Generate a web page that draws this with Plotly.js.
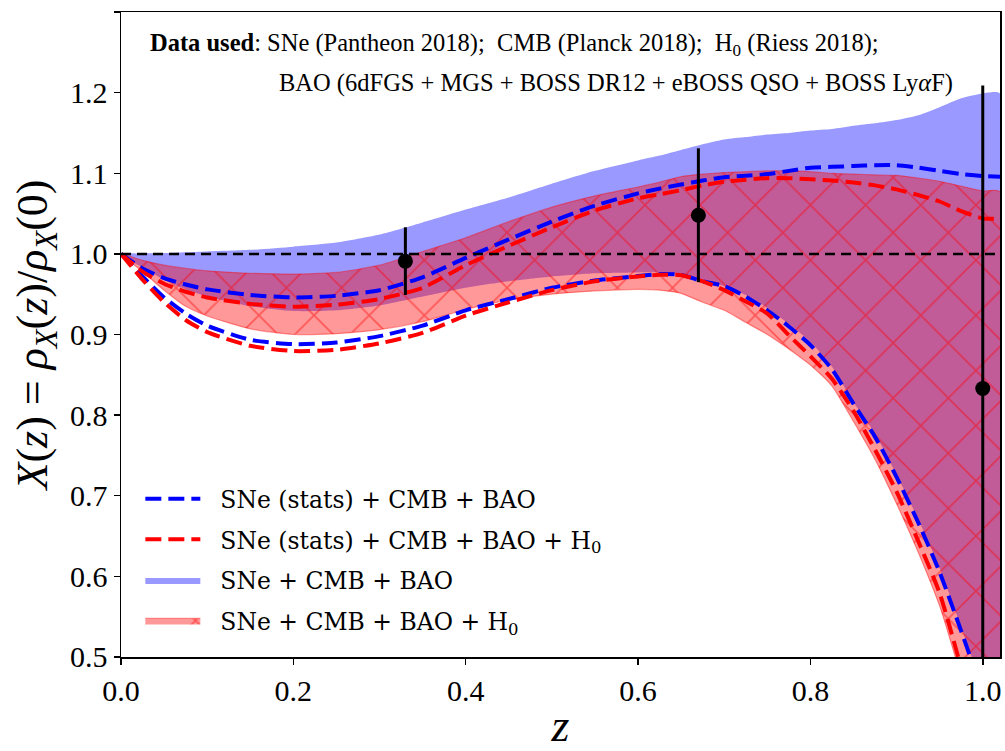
<!DOCTYPE html>
<html><head><meta charset="utf-8">
<script src="https://cdn.plot.ly/plotly-3.0.1.min.js"></script>
<style>html,body{margin:0;padding:0;background:#fff}#chart{width:1005px;height:751px}</style>
</head><body><div id="chart"></div>
<script>
// redshift grid
const z = [0, 0.025, 0.05, 0.075, 0.1, 0.15, 0.2, 0.25, 0.3, 0.35, 0.4, 0.45, 0.5, 0.55, 0.6, 0.625, 0.65, 0.675, 0.7, 0.725, 0.75, 0.775, 0.8, 0.825, 0.85, 0.875, 0.9, 0.925, 0.95, 0.975, 1.0, 1.02];
// SNe + CMB + BAO band (blue)
const blueBandHi = [1.0, 1.0005, 1.001, 1.002, 1.003, 1.005, 1.009, 1.014, 1.024, 1.039, 1.055, 1.070, 1.087, 1.103, 1.116, 1.122, 1.129, 1.136, 1.142, 1.145, 1.148, 1.150, 1.153, 1.155, 1.159, 1.162, 1.166, 1.172, 1.182, 1.193, 1.199, 1.199];
const blueBandLo = [1.0, 0.983, 0.968, 0.956, 0.947, 0.935, 0.929, 0.930, 0.936, 0.947, 0.958, 0.966, 0.972, 0.976, 0.977, 0.977, 0.975, 0.968, 0.960, 0.949, 0.933, 0.913, 0.891, 0.860, 0.816, 0.777, 0.726, 0.671, 0.610, 0.537, 0.46, 0.40];
// SNe + CMB + BAO + H0 band (red, hatched)
const redBandHi = [1.0, 0.992, 0.986, 0.982, 0.979, 0.976, 0.975, 0.977, 0.986, 1.003, 1.020, 1.040, 1.058, 1.072, 1.083, 1.089, 1.096, 1.099, 1.101, 1.102, 1.103, 1.103, 1.102, 1.100, 1.099, 1.098, 1.0975, 1.094, 1.090, 1.084, 1.078, 1.077];
const redBandLo = [1.0, 0.978, 0.955, 0.935, 0.923, 0.907, 0.900, 0.901, 0.906, 0.916, 0.931, 0.943, 0.950, 0.954, 0.956, 0.955, 0.951, 0.940, 0.930, 0.915, 0.900, 0.882, 0.862, 0.836, 0.792, 0.745, 0.690, 0.630, 0.563, 0.475, 0.38, 0.30];
// SNe (stats) + CMB + BAO (blue dashed)
const blueStatHi = [1.0, 0.982, 0.970, 0.962, 0.956, 0.949, 0.946, 0.948, 0.955, 0.971, 0.995, 1.018, 1.040, 1.060, 1.075, 1.081, 1.086, 1.091, 1.095, 1.097, 1.099, 1.103, 1.107, 1.108, 1.109, 1.110, 1.110, 1.107, 1.103, 1.099, 1.0965, 1.0957];
const blueStatLo = [1.0, 0.972, 0.946, 0.926, 0.911, 0.8935, 0.888, 0.890, 0.898, 0.911, 0.930, 0.944, 0.958, 0.967, 0.9725, 0.975, 0.974, 0.966, 0.960, 0.947, 0.930, 0.910, 0.887, 0.857, 0.814, 0.773, 0.723, 0.667, 0.605, 0.532, 0.455, 0.39];
// SNe (stats) + CMB + BAO + H0 (red dashed)
const redStatHi = [1.0, 0.978, 0.963, 0.953, 0.946, 0.938, 0.9345, 0.937, 0.944, 0.958, 0.986, 1.010, 1.033, 1.054, 1.069, 1.074, 1.079, 1.085, 1.0895, 1.092, 1.094, 1.094, 1.0925, 1.091, 1.0885, 1.085, 1.080, 1.073, 1.065, 1.053, 1.044, 1.044];
const redStatLo = [1.0, 0.968, 0.940, 0.918, 0.903, 0.886, 0.8795, 0.881, 0.889, 0.902, 0.9235, 0.940, 0.955, 0.966, 0.972, 0.974, 0.9735, 0.966, 0.955, 0.941, 0.926, 0.899, 0.873, 0.845, 0.805, 0.757, 0.705, 0.644, 0.579, 0.487, 0.40, 0.33];
// binned data points
const pointZ = [0.33, 0.67, 1.0];
const pointX = [0.991, 1.048, 0.833];
const pointErr = [0.042, 0.083, 0.376];
const refLevel = 1.0;
const xTickVals = [0.0, 0.2, 0.4, 0.6, 0.8, 1.0];
const yTickVals = [0.5, 0.6, 0.7, 0.8, 0.9, 1.0, 1.1, 1.2, 1.3];
const legendNames = [
  'SNe (stats) + CMB + BAO',
  'SNe (stats) + CMB + BAO + H<sub>0</sub>',
  'SNe + CMB + BAO',
  'SNe + CMB + BAO + H<sub>0</sub>'
];

const SERIF = 'Liberation Serif, Times New Roman, serif';
const LEGFONT = 'DejaVu Serif, serif';
const PAD = '\u00a0\u00a0';
function band(hi, lo) {
  return { x: z.concat(z.slice().reverse()), y: hi.concat(lo.slice().reverse()) };
}
const bb = band(blueBandHi, blueBandLo);
const rb = band(redBandHi, redBandLo);

const traces = [
  { x: bb.x, y: bb.y, type: 'scatter', mode: 'lines', fill: 'toself',
    fillcolor: 'rgba(0,0,255,0.4)', line: { width: 0, shape: 'spline', smoothing: 0.6 },
    name: PAD + legendNames[2], legendrank: 3, legendgroup: 'c', hoverinfo: 'skip' },
  { x: rb.x, y: rb.y, type: 'scatter', mode: 'lines', fill: 'toself',
    fillcolor: 'rgba(255,0,0,0.4)',
    fillpattern: { shape: 'x', bgcolor: 'rgba(255,0,0,0.4)', fgcolor: '#ff0000', fgopacity: 0.45, size: 39, solidity: 0.08 },
    line: { width: 1.2, color: 'rgba(255,0,0,0.4)', shape: 'spline', smoothing: 0.6 },
    name: PAD + legendNames[3], legendrank: 4, legendgroup: 'd', hoverinfo: 'skip' },
  { x: z, y: blueStatHi, type: 'scatter', mode: 'lines', line: { color: '#0000ff', width: 4, dash: '16px,7px', shape: 'spline', smoothing: 0.6 },
    name: PAD + legendNames[0], legendrank: 1, legendgroup: 'a' },
  { x: z, y: blueStatLo, type: 'scatter', mode: 'lines', line: { color: '#0000ff', width: 4, dash: '16px,7px', shape: 'spline', smoothing: 0.6 },
    name: legendNames[0], legendgroup: 'a', showlegend: false },
  { x: z, y: redStatHi, type: 'scatter', mode: 'lines', line: { color: '#ff0000', width: 4, dash: '16px,7px', shape: 'spline', smoothing: 0.6 },
    name: PAD + legendNames[1], legendrank: 2, legendgroup: 'b' },
  { x: z, y: redStatLo, type: 'scatter', mode: 'lines', line: { color: '#ff0000', width: 4, dash: '16px,7px', shape: 'spline', smoothing: 0.6 },
    name: legendNames[1], legendgroup: 'b', showlegend: false },
  { x: [0, 1.02], y: [refLevel, refLevel], type: 'scatter', mode: 'lines',
    line: { color: '#000', width: 2.5, dash: '10px,6px' }, showlegend: false, hoverinfo: 'skip' },
  { x: pointZ, y: pointX, type: 'scatter', mode: 'markers',
    marker: { color: '#000', size: 15 },
    error_y: { type: 'data', array: pointErr, visible: true, color: '#000', thickness: 3, width: 0 },
    showlegend: false }
];

const layout = {
  width: 1005, height: 751,
  margin: { l: 121, r: 5, t: 12, b: 94 },
  paper_bgcolor: '#fff', plot_bgcolor: '#fff',
  font: { family: SERIF, color: '#000', size: 27 },
  showlegend: true,
  legend: { x: 0.022, y: 0.279, xanchor: 'left', yanchor: 'top', bgcolor: 'rgba(0,0,0,0)',
    font: { family: LEGFONT, size: 23.5, color: '#000' }, itemwidth: 55, tracegroupgap: 7, traceorder: 'grouped' },
  xaxis: {
    range: [0, 1.02], tickvals: xTickVals, tickformat: '.1f', ticks: 'outside', ticklen: 6, tickwidth: 1.5,
    tickcolor: '#000', showline: true, linecolor: '#000', linewidth: 1.5, mirror: true,
    showgrid: false, zeroline: false, tickfont: { family: SERIF, size: 30, color: '#000' },
    title: { text: '<i>z</i>', font: { family: SERIF, size: 46, color: '#000' }, standoff: 12 }
  },
  yaxis: {
    range: [0.4999, 1.3001], tickvals: yTickVals, tickformat: '.1f', ticks: 'outside', ticklen: 6, tickwidth: 1.5,
    tickcolor: '#000', showline: true, linecolor: '#000', linewidth: 1.5, mirror: true,
    showgrid: false, zeroline: false, tickfont: { family: SERIF, size: 30, color: '#000' },
    title: { text: '<i>X</i>(<i>z</i>) = <i>ρ</i><sub><i>X</i></sub>(<i>z</i>)/<i>ρ</i><sub><i>X</i></sub>(0)', font: { family: SERIF, size: 44, color: '#000' }, standoff: 8 }
  },
  annotations: [
    { xref: 'paper', yref: 'paper', x: 0.0307, y: 0.950, xanchor: 'left', yanchor: 'middle', showarrow: false,
      text: '<b>Data used</b>: SNe (Pantheon 2018);  CMB (Planck 2018);  H<sub>0</sub> (Riess 2018);',
      font: { family: SERIF, size: 24.5, color: '#000' } },
    { xref: 'paper', yref: 'paper', x: 0.1775, y: 0.890, xanchor: 'left', yanchor: 'middle', showarrow: false,
      text: 'BAO (6dFGS + MGS + BOSS DR12 + eBOSS QSO + BOSS Ly<i>α</i>F)',
      font: { family: SERIF, size: 24.5, color: '#000' } }
  ]
};

Plotly.newPlot('chart', traces, layout, { displayModeBar: false, staticPlot: true });
</script>
</body></html>
